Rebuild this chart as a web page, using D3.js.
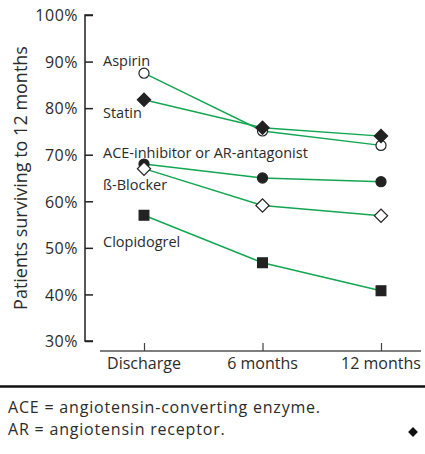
<!DOCTYPE html>
<html><head><meta charset="utf-8">
<script src="https://cdn.jsdelivr.net/npm/d3@7"></script>
<style>
html,body{margin:0;padding:0;background:#fff;}
svg text{font-family:"Open Sans","Noto Sans",sans-serif;fill:#2b2b2b;}
</style></head>
<body><svg id="c" width="425" height="454"></svg>
<script>
const timepoints = ["Discharge", "6 months", "12 months"];
const yTicks = [30, 40, 50, 60, 70, 80, 90, 100];
const seriesNames = ["Aspirin", "Statin", "ACE-inhibitor or AR-antagonist", "ß-Blocker", "Clopidogrel"];
const aspirin = [87.5, 75.1, 72.0];
const statin = [81.8, 75.8, 74.0];
const aceInhibitor = [68.0, 65.0, 64.2];
const betaBlocker = [67.0, 59.1, 56.9];
const clopidogrel = [57.0, 46.8, 40.8];
const labelValues = [89.1, 77.8, 69.4, 62.4, 50.2];
const footnotes = ["ACE = angiotensin-converting enzyme.", "AR = angiotensin receptor."];

const series = [
  {name: seriesNames[0], values: aspirin, shape: "circle", fill: "#fff"},
  {name: seriesNames[1], values: statin, shape: "diamond", fill: "#222"},
  {name: seriesNames[2], values: aceInhibitor, shape: "circle", fill: "#222"},
  {name: seriesNames[3], values: betaBlocker, shape: "diamond", fill: "#fff"},
  {name: seriesNames[4], values: clopidogrel, shape: "square", fill: "#222"}
];

const svg = d3.select("#c");
const green = "#12a650";
const y = d3.scaleLinear().domain([30, 100]).range([341, 15]);
const x = d3.scalePoint().domain(timepoints).range([144, 381]);

// y axis
const yAxis = svg.append("g").attr("transform", "translate(85,0)")
  .call(d3.axisRight(y).tickValues(yTicks).tickSize(8).tickFormat(d => d + "%"));
yAxis.select(".domain").attr("stroke", "#222").attr("stroke-width", 1.5).attr("d", "M8,15H0V341H8");
yAxis.selectAll(".tick line").attr("stroke", "#222").attr("stroke-width", 1.5);
yAxis.selectAll(".tick text").attr("x", -7).attr("text-anchor", "end").attr("dy", "0.36em")
  .style("font-size", "16px").style("letter-spacing", "0.5px").attr("fill", "#2b2b2b");

// x axis
const xAxis = svg.append("g").attr("transform", "translate(0,351)")
  .call(d3.axisTop(x).tickSize(8).tickFormat(""));
xAxis.select(".domain").attr("stroke", "#555").attr("stroke-width", 1.5).attr("d", "M100,0H421");
xAxis.selectAll(".tick line").attr("stroke", "#444").attr("stroke-width", 1.2);
svg.append("g").selectAll("text").data(timepoints).join("text")
  .attr("x", d => x(d)).attr("y", 368.5).attr("text-anchor", "middle")
  .style("font-size", "16px").text(d => d);

// y title
svg.append("text").attr("transform", "translate(27,178) rotate(-90)")
  .attr("text-anchor", "middle").style("font-size", "18px")
  .text("Patients surviving to 12 months");

// lines
const line = d3.line().x((d, i) => x(timepoints[i])).y(d => y(d));
svg.append("g").selectAll("path").data(series).join("path")
  .attr("d", d => line(d.values)).attr("fill", "none")
  .attr("stroke", green).attr("stroke-width", 1.4);

// markers
const shapes = {circle: d3.symbolCircle, diamond: d3.symbolSquare, square: d3.symbolSquare};
const sizes = {circle: 80, diamond: 88, square: 95};
series.forEach(s => {
  svg.append("g").selectAll("path").data(s.values).join("path")
    .attr("transform", (d, i) => `translate(${x(timepoints[i])},${y(d)})` + (s.shape === "diamond" ? " rotate(45)" : ""))
    .attr("d", d3.symbol().type(shapes[s.shape]).size(sizes[s.shape]))
    .attr("fill", s.fill).attr("stroke", "#222").attr("stroke-width", 1.2);
});

// series labels
svg.append("g").selectAll("text").data(series).join("text")
  .attr("x", 103).attr("y", (d, i) => y(labelValues[i]))
  .style("font-size", "14.5px").text(d => d.name);

// footnote
svg.append("line").attr("x1", 0).attr("x2", 425).attr("y1", 386.5).attr("y2", 386.5)
  .attr("stroke", "#111").attr("stroke-width", 2.5);
svg.append("g").selectAll("text").data(footnotes).join("text")
  .attr("x", 8).attr("y", (d, i) => 413 + i * 22)
  .style("font-size", "16px").style("letter-spacing", "0.8px").text(d => d);
svg.append("path").attr("transform", "translate(413,432) rotate(45)")
  .attr("d", d3.symbol().type(d3.symbolSquare).size(48)).attr("fill", "#111");
</script></body></html>
